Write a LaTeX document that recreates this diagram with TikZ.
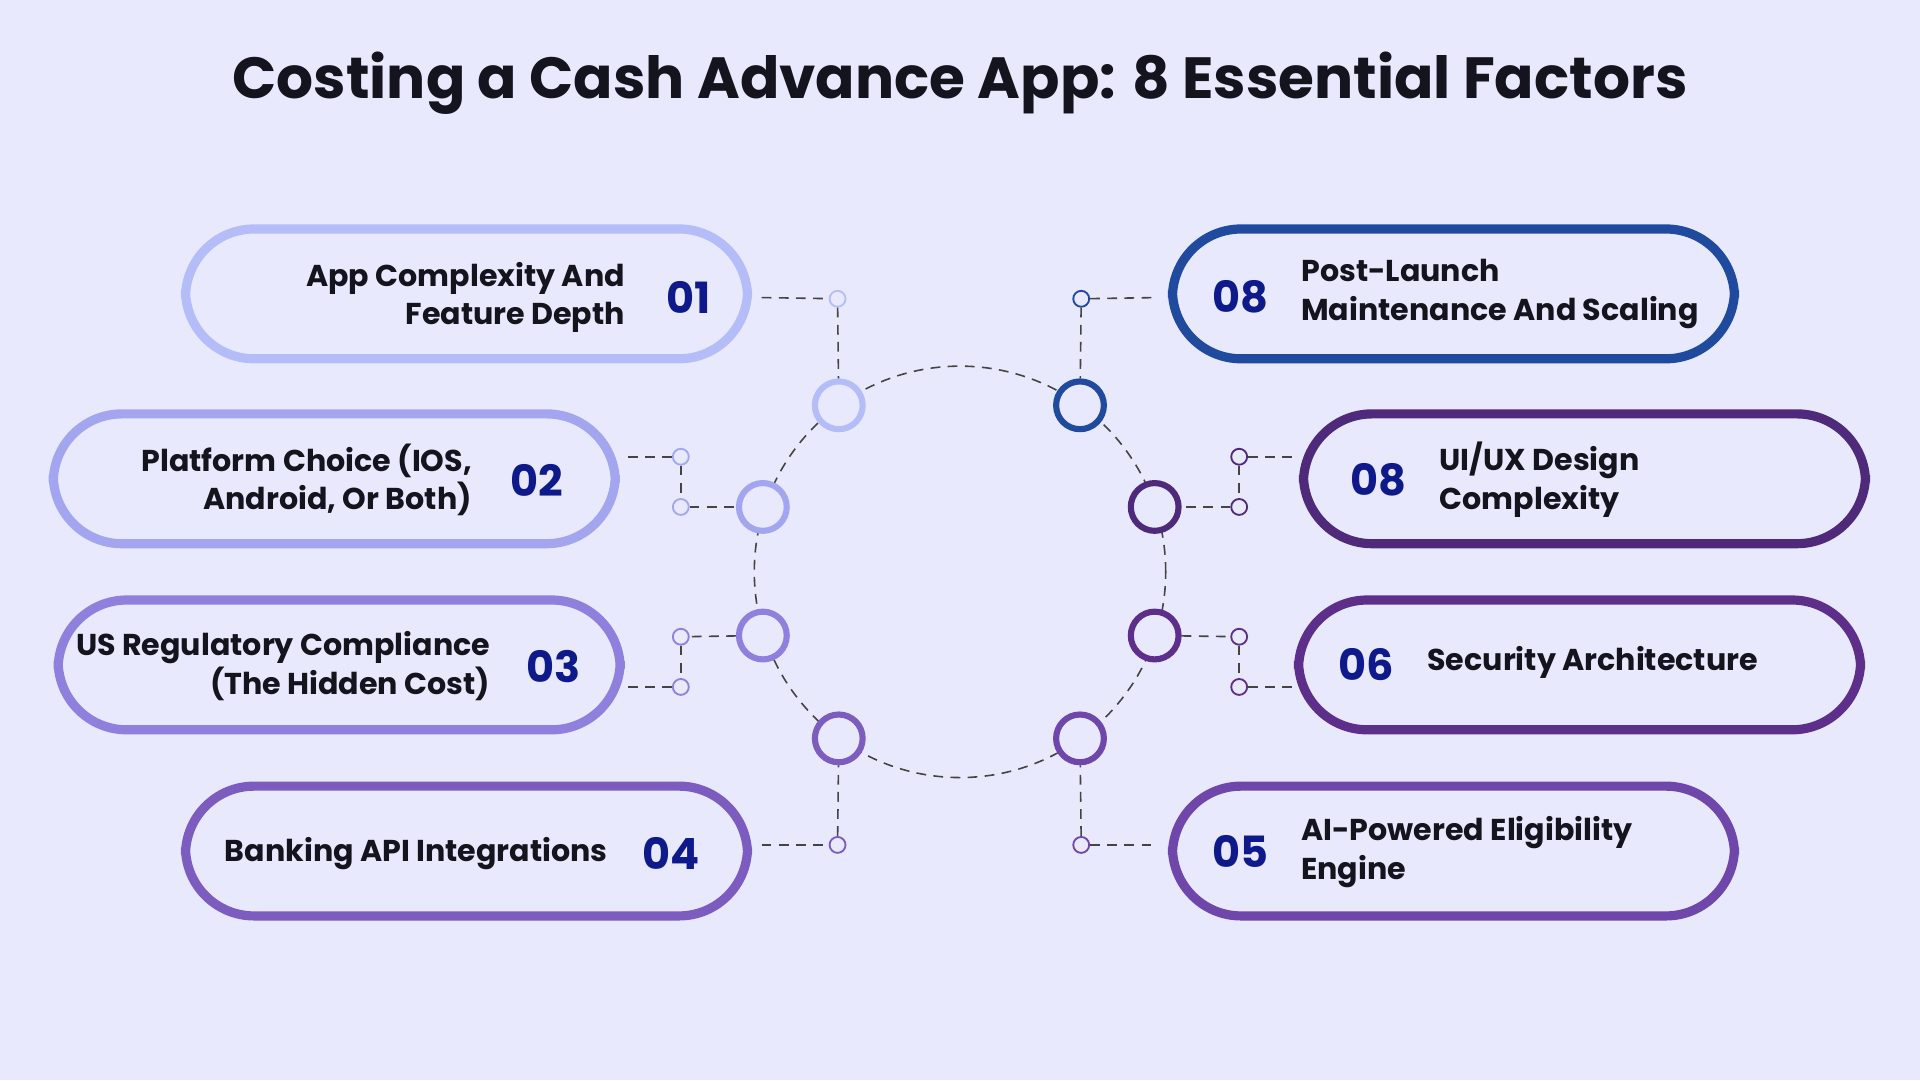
\documentclass[tikz,border=0pt]{standalone}
\usepackage{fontspec}
\setmainfont{Poppins}
\begin{document}
\begin{tikzpicture}[x=0.1mm,y=-0.1mm,
  pill/.style={draw,line width=0.75mm,fill=bgc,rounded corners=5.6mm,minimum width=45.9mm,minimum height=10.6mm,inner sep=0},
  ring/.style={circle,draw,line width=0.5mm,fill=bgc,minimum size=3.9mm,inner sep=0},
  dot/.style={circle,draw,line width=0.15mm,fill=bgc,minimum size=1.3mm,inner sep=0},
  dl/.style={draw=dashc,dashed,line width=0.13mm,dash pattern=on 0.8mm off 0.6mm},
  lab/.style={font=\fontsize{7}{9}\selectfont\bfseries,text=labc,inner sep=0},
  num/.style={font=\fontsize{10}{12}\selectfont\bfseries,text=numc,inner sep=0}]
\definecolor{bgc}{HTML}{E9E9FD}
\definecolor{dashc}{HTML}{444444}
\definecolor{labc}{HTML}{14141E}
\definecolor{numc}{HTML}{0F1A8A}
\definecolor{ca}{HTML}{B4BDF8}
\definecolor{cb}{HTML}{A3A6EF}
\definecolor{cc}{HTML}{8F80DE}
\definecolor{cd}{HTML}{7D5CC0}
\definecolor{ch}{HTML}{1F4A9E}
\definecolor{cg}{HTML}{4F2A7A}
\definecolor{cf}{HTML}{5D2F8A}
\definecolor{ce}{HTML}{6F46AA}
\fill[bgc] (0,0) rectangle (1568,882);
\useasboundingbox (0,0) rectangle (1568,882);
\node[font=\fontsize{13.5}{16}\selectfont\bfseries,text=labc] (title) at (784,68) {Costing a Cash Advance App: 8 Essential Factors};
\draw[dl] (784,467) circle (16.8mm);
% pills
\node[pill,draw=ca] (p1) at (381,240) {};
\node[pill,draw=cb] (p2) at (273,391) {};
\node[pill,draw=cc] (p3) at (277,543) {};
\node[pill,draw=cd] (p4) at (381,695) {};
\node[pill,draw=ch] (p8) at (1187,240) {};
\node[pill,draw=cg] (p7) at (1294,391) {};
\node[pill,draw=cf] (p6) at (1290,543) {};
\node[pill,draw=ce] (p5) at (1187,695) {};
% texts
\node[lab,align=right,anchor=east] (t1) at (511,243) {App Complexity And\\Feature Depth};
\node[num] (n1) at (562,243) {01};
\node[lab,align=right,anchor=east] (t2) at (386,392) {Platform Choice (IOS,\\Android, Or Both)};
\node[num] (n2) at (438,392) {02};
\node[lab,align=right,anchor=east] (t3) at (401,544) {US Regulatory Compliance\\(The Hidden Cost)};
\node[num] (n3) at (452,544) {03};
\node[lab,anchor=east] (t4) at (497,697) {Banking API Integrations};
\node[num] (n4) at (548,697) {04};
\node[num] (n8) at (1013,242) {08};
\node[lab,align=left,anchor=west] (t8) at (1062,240) {Post-Launch\\Maintenance And Scaling};
\node[num] (n7) at (1126,392) {08};
\node[lab,align=left,anchor=west] (t7) at (1175,392) {UI/UX Design\\Complexity};
\node[num] (n6) at (1116,543) {06};
\node[lab,anchor=west] (t6) at (1165,541) {Security Architecture};
\node[num] (n5) at (1013,695) {05};
\node[lab,align=left,anchor=west] (t5) at (1062,696) {AI-Powered Eligibility\\Engine};
% connectors
\coordinate (e1) at (622,243); \coordinate (e2) at (513,373); \coordinate (e3) at (513,561); \coordinate (e4) at (622,690);
\coordinate (e8) at (945,243); \coordinate (e7) at (1055,373); \coordinate (e6) at (1055,561); \coordinate (e5) at (945,690);
\coordinate (q2) at (603,414); \coordinate (q3) at (603,519); \coordinate (q7) at (963,414); \coordinate (q6) at (963,519);
\node[dot,draw=ca] (d1) at (684,244) {};
\node[dot,draw=cb] (d2a) at (556,373) {}; \node[dot,draw=cb] (d2b) at (556,414) {};
\node[dot,draw=cc] (d3a) at (556,520) {}; \node[dot,draw=cc] (d3b) at (556,561) {};
\node[dot,draw=cd] (d4) at (684,690) {};
\node[dot,draw=ch] (d8) at (883,244) {};
\node[dot,draw=cg] (d7a) at (1012,373) {}; \node[dot,draw=cg] (d7b) at (1012,414) {};
\node[dot,draw=cf] (d6a) at (1012,520) {}; \node[dot,draw=cf] (d6b) at (1012,561) {};
\node[dot,draw=ce] (d5) at (883,690) {};
\node[ring,draw=ca] (r1) at (685,331) {};
\node[ring,draw=cb] (r2) at (623,414) {};
\node[ring,draw=cc] (r3) at (623,519) {};
\node[ring,draw=cd] (r4) at (685,603) {};
\node[ring,draw=ch] (r8) at (882,331) {};
\node[ring,draw=cg] (r7) at (943,414) {};
\node[ring,draw=cf] (r6) at (943,519) {};
\node[ring,draw=ce] (r5) at (882,603) {};
\begin{scope}[on background layer/.style={}]
\draw[dl] (e1) -- (d1); \draw[dl] (d1) -- (r1);
\draw[dl] (e2) -- (d2a); \draw[dl] (d2a) -- (d2b); \draw[dl] (d2b) -- (r2);
\draw[dl] (r3) -- (d3a); \draw[dl] (d3a) -- (d3b); \draw[dl] (d3b) -- (e3);
\draw[dl] (e4) -- (d4); \draw[dl] (d4) -- (r4);
\draw[dl] (d8) -- (e8); \draw[dl] (d8) -- (r8);
\draw[dl] (d7a) -- (e7); \draw[dl] (d7a) -- (d7b); \draw[dl] (d7b) -- (r7);
\draw[dl] (r6) -- (d6a); \draw[dl] (d6a) -- (d6b); \draw[dl] (d6b) -- (e6);
\draw[dl] (d5) -- (e5); \draw[dl] (d5) -- (r5);
\end{scope}
\end{tikzpicture}
\end{document}
